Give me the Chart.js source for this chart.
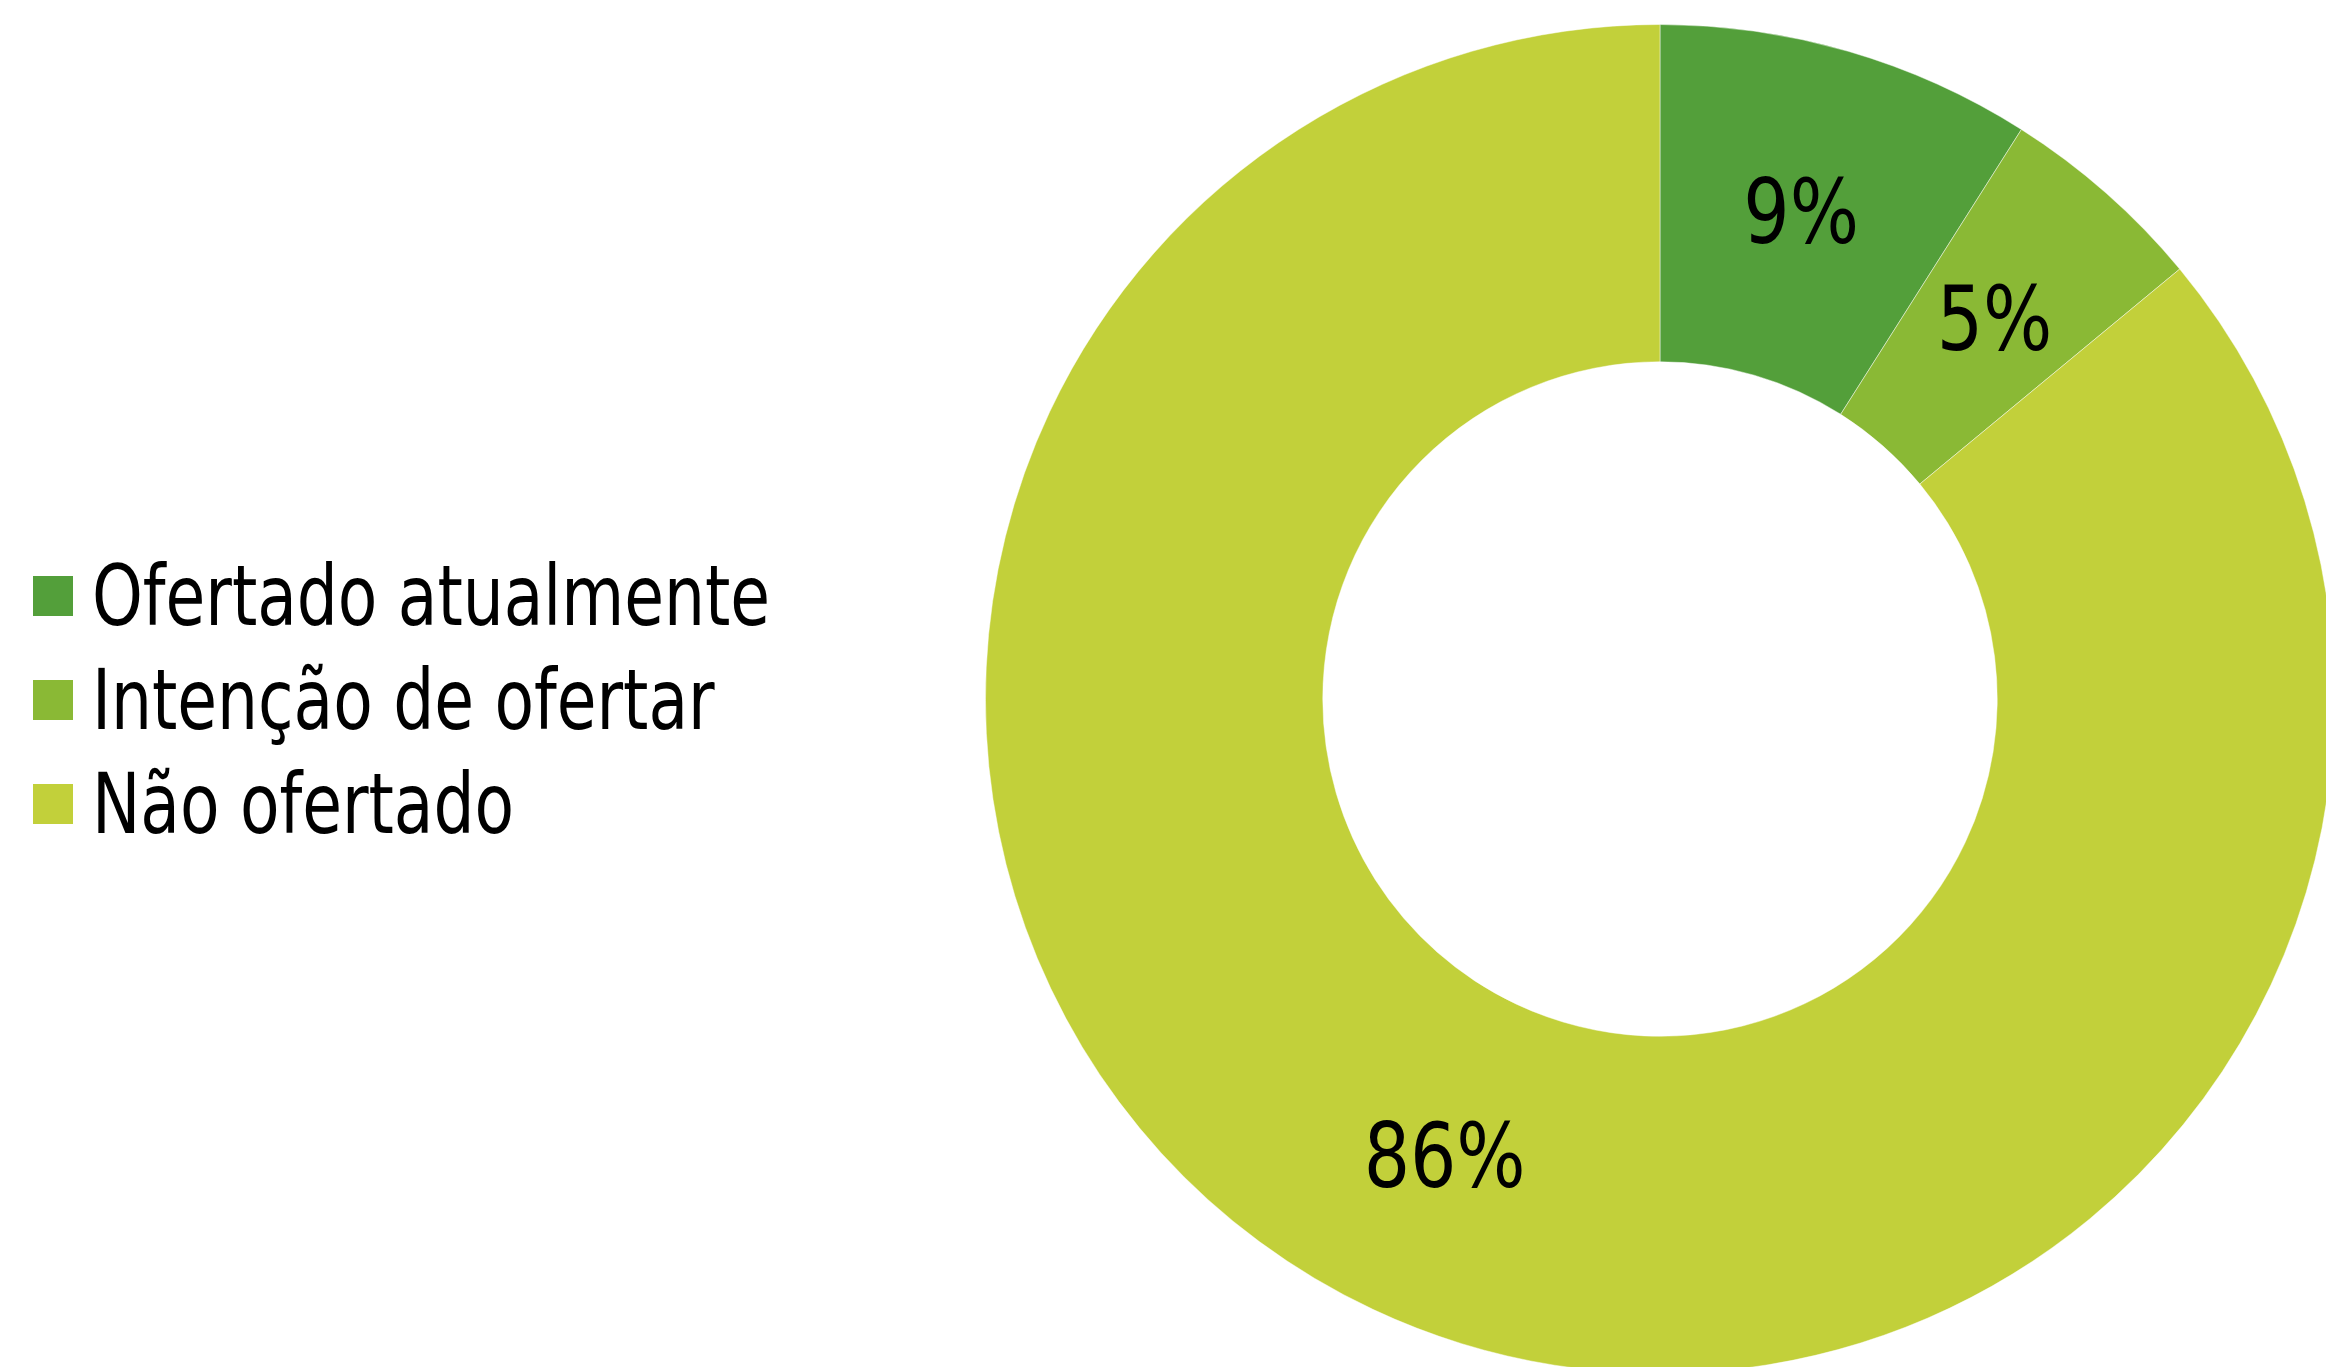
<!DOCTYPE html>
<html lang="pt">
<head>
<meta charset="utf-8">
<title>Oferta</title>
<script src="https://cdn.jsdelivr.net/npm/chart.js@4/dist/chart.umd.min.js"></script>
<style>
  html, body { margin: 0; padding: 0; width: 2326px; height: 1367px; overflow: hidden; background: #ffffff; }
  #wrap { position: absolute; left: 985px; top: 24px; width: 1350px; height: 1350px; }
  #legend { position: absolute; left: 33px; top: 0; font-family: 'DejaVu Sans Condensed', 'Liberation Sans', sans-serif; font-size: 84px; color: #000; }
  .row { position: absolute; left: 0; height: 100px; display: flex; align-items: center; white-space: nowrap; }
  .sw { width: 40px; height: 40px; margin-right: 19px; flex: none; }
  .tx { display: inline-block; transform: scaleX(0.855); transform-origin: 0 50%; }
</style>
</head>
<body>
<div id="legend"></div>
<div id="wrap"><canvas id="c" width="1350" height="1350"></canvas></div>
<script>
// Categories and shares (%)
const categories = ['Ofertado atualmente', 'Intenção de ofertar', 'Não ofertado'];
const shares = [9, 5, 86];
const sliceColors = ['#539f3a', '#8ab935', '#c2d03a'];

// Legend rows on the left
const legendRowCenters = [596, 700, 804];
const legend = document.getElementById('legend');
categories.forEach((name, i) => {
  const row = document.createElement('div');
  row.className = 'row';
  row.style.top = (legendRowCenters[i] - 50) + 'px';
  const sw = document.createElement('span');
  sw.className = 'sw';
  sw.style.background = sliceColors[i];
  const tx = document.createElement('span');
  tx.className = 'tx';
  tx.textContent = name;
  row.appendChild(sw);
  row.appendChild(tx);
  legend.appendChild(row);
});

// Percentage labels placed at each arc's centroid (slightly condensed type)
const sliceLabels = {
  id: 'sliceLabels',
  afterDatasetsDraw(chart) {
    const ctx = chart.ctx;
    const meta = chart.getDatasetMeta(0);
    const squeeze = 0.91;
    meta.data.forEach((arc, i) => {
      const p = arc.tooltipPosition();
      ctx.save();
      ctx.translate(p.x, p.y + 7);
      ctx.scale(squeeze, 1);
      ctx.font = "89px 'DejaVu Sans Condensed', 'Liberation Sans', sans-serif";
      ctx.fillStyle = '#000000';
      ctx.textAlign = 'center';
      ctx.textBaseline = 'middle';
      ctx.fillText(chart.data.datasets[0].data[i] + '%', 0, 0);
      ctx.restore();
    });
  }
};

new Chart(document.getElementById('c'), {
  type: 'doughnut',
  data: {
    labels: categories,
    datasets: [{
      data: shares,
      backgroundColor: sliceColors,
      borderColor: 'rgba(255,255,255,0.45)',
      borderWidth: 1
    }]
  },
  options: {
    responsive: false,
    animation: false,
    cutout: '50%',
    layout: { padding: 0 },
    plugins: {
      legend: { display: false },
      tooltip: { enabled: false }
    }
  },
  plugins: [sliceLabels]
});
</script>
</body>
</html>
